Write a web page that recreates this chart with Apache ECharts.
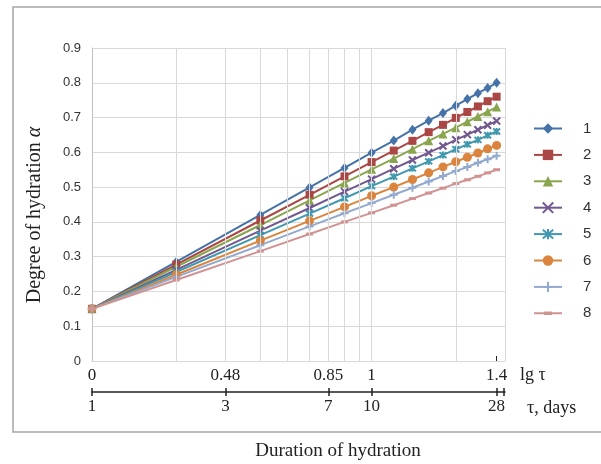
<!DOCTYPE html>
<html>
<head>
<meta charset="utf-8">
<script src="https://cdn.jsdelivr.net/npm/echarts@6/dist/echarts.min.js"></script>
<style>html,body{margin:0;padding:0;background:#fff}#c{width:601px;height:464px}</style>
</head>
<body>
<div id="c"></div>
<script>
// Duration of hydration, days
const tau = [1, 2, 4, 6, 8, 10, 12, 14, 16, 18, 20, 22, 24, 26, 28];
// Degree of hydration for curves 1..8
const s1 = [0.150, 0.285, 0.420, 0.499, 0.555, 0.599, 0.634, 0.665, 0.691, 0.713, 0.734, 0.753, 0.770, 0.785, 0.800];
const s2 = [0.150, 0.277, 0.404, 0.478, 0.531, 0.572, 0.605, 0.633, 0.658, 0.679, 0.699, 0.716, 0.732, 0.747, 0.760];
const s3 = [0.150, 0.271, 0.391, 0.462, 0.512, 0.551, 0.582, 0.609, 0.633, 0.653, 0.671, 0.688, 0.703, 0.717, 0.730];
const s4 = [0.150, 0.262, 0.375, 0.440, 0.487, 0.523, 0.553, 0.578, 0.599, 0.618, 0.636, 0.651, 0.665, 0.678, 0.690];
const s5 = [0.150, 0.256, 0.362, 0.424, 0.468, 0.503, 0.530, 0.554, 0.574, 0.592, 0.609, 0.623, 0.636, 0.649, 0.660];
const s6 = [0.150, 0.248, 0.346, 0.403, 0.443, 0.475, 0.500, 0.522, 0.541, 0.558, 0.573, 0.586, 0.598, 0.610, 0.620];
const s7 = [0.150, 0.242, 0.333, 0.387, 0.425, 0.454, 0.478, 0.498, 0.516, 0.532, 0.546, 0.558, 0.570, 0.580, 0.590];
const s8 = [0.150, 0.233, 0.316, 0.365, 0.400, 0.426, 0.448, 0.467, 0.483, 0.497, 0.510, 0.521, 0.531, 0.541, 0.550];
const seriesNames = ['1', '2', '3', '4', '5', '6', '7', '8'];
// tick positions (days) and labels
const tickDays = [1, 3, 7, 10, 28];
const lgLabels = ['0', '0.48', '0.85', '1', '1.4'];
const dayLabels = ['1', '3', '7', '10', '28'];
const gridDays = [2, 3, 4, 5, 6, 7, 8, 9, 10, 20, 30];
const xMin = 1, xMax = 30;
const yMin = 0, yMax = 0.9, yStep = 0.1;

const allData = [s1, s2, s3, s4, s5, s6, s7, s8];
const colors = ['#4572A7', '#AA4643', '#89A54E', '#71588F', '#4198AF', '#DB843D', '#93A9CF', '#D19392'];
const symbols = [
  'diamond', 'rect', 'triangle',
  'path://M0,0L10,10M10,0L0,10',
  'path://M0,0L10,10M10,0L0,10M5,-1L5,11',
  'circle',
  'path://M5,0L5,10M0,5L10,5',
  'path://M0,0L16,0L16,6L0,6Z'
];
const sizes = [[8, 10], 8, 9, 7, 7, 9, 8, [7, 3]];
const strokeSym = [false, false, false, true, true, false, true, false];

function idxOf(v) {
  let best = -1, bd = 1e9;
  tickDays.forEach((d, i) => { const dd = Math.abs(d - v); if (dd < bd) { bd = dd; best = i; } });
  return bd < 0.01 * v ? best : -1;
}

const series = allData.map((arr, i) => ({
  name: seriesNames[i],
  type: 'line',
  xAxisIndex: 0,
  data: tau.map((t, j) => [t, arr[j]]),
  symbol: symbols[i],
  symbolSize: sizes[i],
  showAllSymbol: true,
  z: 3,
  lineStyle: { color: colors[i], width: 2 },
  itemStyle: strokeSym[i]
    ? { color: colors[i], borderColor: colors[i], borderWidth: 2 }
    : { color: colors[i], borderWidth: 0 },
  emphasis: { disabled: true }
}));

series.unshift({
  name: 'grid',
  type: 'line',
  xAxisIndex: 0,
  data: [],
  z: 1,
  silent: true,
  markLine: {
    silent: true,
    symbol: ['none', 'none'],
    label: { show: false },
    lineStyle: { color: '#d9d9d9', type: 'solid', width: 1 },
    emphasis: { disabled: true },
    data: gridDays.map(d => ({ xAxis: d }))
  }
});

const serif = 'Liberation Serif';
const sans = 'Liberation Sans';

const legendData = seriesNames.map((n, i) => i === 7
  ? { name: n, icon: 'path://M0,0M28,13M0,5.5L28,5.5L28,7.5L0,7.5ZM10,4.8L18,4.8L18,8.2L10,8.2Z' }
  : { name: n });

const chart = echarts.init(document.getElementById('c'), null, { renderer: 'canvas' });
chart.setOption({
  animation: false,
  backgroundColor: '#fff',
  grid: { left: 92, right: 96, top: 48, bottom: 103, containLabel: false },
  legend: {
    data: legendData,
    orient: 'vertical',
    left: 528,
    top: 116,
    itemWidth: 28,
    itemHeight: 13,
    itemGap: 11.4,
    textStyle: { fontFamily: sans, fontSize: 15, color: '#333', padding: [0, 0, 0, 16] }
  },
  xAxis: [
    {
      type: 'log', logBase: 10, min: xMin, max: xMax, position: 'bottom',
      axisLine: { show: true, lineStyle: { color: '#d9d9d9', width: 1 } },
      axisTick: { show: true, inside: true, length: 5, customValues: [28], lineStyle: { color: '#222', width: 1 } },
      axisLabel: {
        customValues: tickDays, margin: 6, fontFamily: serif, fontSize: 17, color: '#222',
        formatter: v => { const k = idxOf(v); return k >= 0 ? lgLabels[k] : ''; }
      },
      splitLine: { show: false }
    },
    {
      type: 'log', logBase: 10, min: xMin, max: xMax, position: 'bottom', offset: 31,
      axisLine: { show: true, lineStyle: { color: '#222', width: 1.5 } },
      axisTick: { show: true, inside: false, length: 4, customValues: tickDays.concat([29.7]), lineStyle: { color: '#222', width: 1.5 } },
      axisLabel: {
        customValues: tickDays, margin: 6, fontFamily: serif, fontSize: 17, color: '#222',
        formatter: v => { const k = idxOf(v); return k >= 0 ? dayLabels[k] : ''; }
      },
      splitLine: { show: false }
    },
    {
      type: 'log', logBase: 10, min: xMin, max: xMax, position: 'bottom', offset: 31,
      axisLine: { show: false },
      axisTick: { show: true, inside: true, length: 4, customValues: tickDays.concat([29.7]), lineStyle: { color: '#222', width: 1.5 } },
      axisLabel: { show: false },
      splitLine: { show: false }
    }
  ],
  yAxis: {
    type: 'value', min: yMin, max: yMax, interval: yStep,
    axisLine: { show: true, lineStyle: { color: '#bfbfbf', width: 1 } },
    axisTick: { show: false },
    axisLabel: {
      fontFamily: sans, fontSize: 13, color: '#333', margin: 11,
      formatter: v => (Math.abs(v) < 1e-9 ? '0' : v.toFixed(1))
    },
    splitLine: { show: true, lineStyle: { color: '#d9d9d9', width: 1 } }
  },
  series: series,
  graphic: [
    {
      type: 'rect', silent: true, z: 0,
      shape: { x: 13, y: 7, width: 640, height: 425 },
      style: { fill: 'none', stroke: '#a6a6a6', lineWidth: 1.5 }
    },
    {
      type: 'text', x: 35, y: 215, rotation: Math.PI / 2,
      style: {
        text: 'Degree of hydration {i|α}', fontFamily: serif, fontSize: 20, fill: '#222',
        align: 'center', verticalAlign: 'middle',
        rich: { i: { fontStyle: 'italic', fontFamily: serif, fontSize: 20, fill: '#222' } }
      }
    },
    {
      type: 'text', x: 338, y: 451,
      style: { text: 'Duration of hydration', fontFamily: serif, fontSize: 19, fill: '#222', align: 'center', verticalAlign: 'middle' }
    },
    {
      type: 'text', x: 520, y: 375,
      style: { text: 'lg τ', fontFamily: serif, fontSize: 18, fill: '#222', align: 'left', verticalAlign: 'middle' }
    },
    {
      type: 'text', x: 527, y: 408,
      style: { text: 'τ, days', fontFamily: serif, fontSize: 18, fill: '#222', align: 'left', verticalAlign: 'middle' }
    }
  ]
});
</script>
</body>
</html>
